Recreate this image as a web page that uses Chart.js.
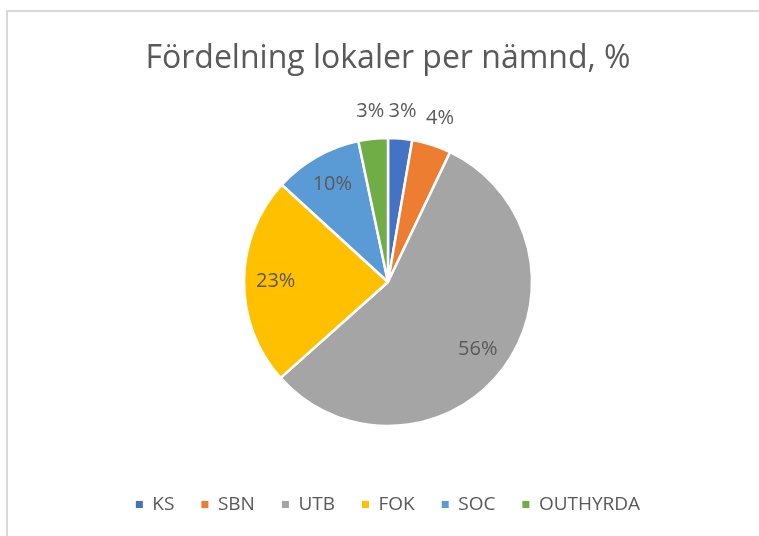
<!DOCTYPE html>
<html>
<head>
<meta charset="utf-8">
<script src="https://cdn.jsdelivr.net/npm/chart.js@4/dist/chart.umd.min.js"></script>
<style>
    html, body { margin: 0; padding: 0; background: #fff; }
    #wrap { position: relative; width: 759px; height: 536px; overflow: hidden; }
    #frame {
        position: absolute; left: 6px; top: 10px; width: 800px; height: 600px;
        border-left: 2px solid #d9d9d9; border-top: 2px solid #d9d9d9;
    }
    #pieChart { position: absolute; left: 0; top: 0; }
</style>
</head>
<body>
<div id="wrap">
    <div id="frame"></div>
    <canvas id="pieChart" width="759" height="536"></canvas>
</div>
<script>
// Data
const categories = ['KS', 'SBN', 'UTB', 'FOK', 'SOC', 'OUTHYRDA'];
const shares = [2.7, 4.4, 56.3, 23.4, 9.9, 3.3];
const sliceColors = ['#4472C4', '#ED7D31', '#A5A5A5', '#FFC000', '#5B9BD5', '#70AD47'];

const textColor = '#595959';
const fontFamily = "'Open Sans', sans-serif";

// Percentage labels on/around each slice
const sliceLabels = {
    id: 'sliceLabels',
    afterDatasetsDraw(chart) {
        const ctx = chart.ctx;
        const meta = chart.getDatasetMeta(0);
        const total = shares.reduce((a, b) => a + b, 0);
        ctx.save();
        ctx.font = `20px ${fontFamily}`;
        ctx.fillStyle = textColor;
        ctx.textAlign = 'center';
        ctx.textBaseline = 'middle';
        meta.data.forEach((arc, i) => {
            const pct = shares[i] / total * 100;
            const mid = (arc.startAngle + arc.endAngle) / 2;
            const r = pct < 5 ? arc.outerRadius * 1.19 : arc.outerRadius * 0.78;
            const x = arc.x + Math.cos(mid) * r;
            const y = arc.y + Math.sin(mid) * r;
            ctx.fillText(Math.round(pct) + '%', x, y);
        });
        ctx.restore();
    }
};

const ctx = document.getElementById('pieChart').getContext('2d');
new Chart(ctx, {
    type: 'pie',
    data: {
        labels: categories,
        datasets: [{
            data: shares,
            backgroundColor: sliceColors,
            borderColor: '#ffffff',
            borderWidth: 2.5,
            radius: 144
        }]
    },
    options: {
        responsive: false,
        animation: false,
        layout: {
            padding: { left: 17, right: 0, top: 0, bottom: 12 }
        },
        plugins: {
            title: {
                display: true,
                text: 'Fördelning lokaler per nämnd, %',
                color: textColor,
                font: { family: fontFamily, size: 32, weight: 'normal', lineHeight: 1.2 },
                padding: { top: 40, bottom: 17.6 }
            },
            legend: {
                position: 'bottom',
                labels: {
                    color: textColor,
                    font: { family: fontFamily, size: 19 },
                    boxWidth: 7,
                    boxHeight: 7,
                    padding: 27,
                    generateLabels(chart) {
                        const items = Chart.overrides.pie.plugins.legend.labels.generateLabels(chart);
                        items.forEach(item => { item.lineWidth = 0; });
                        return items;
                    }
                }
            },
            tooltip: { enabled: false }
        }
    },
    plugins: [sliceLabels]
});
</script>
</body>
</html>
